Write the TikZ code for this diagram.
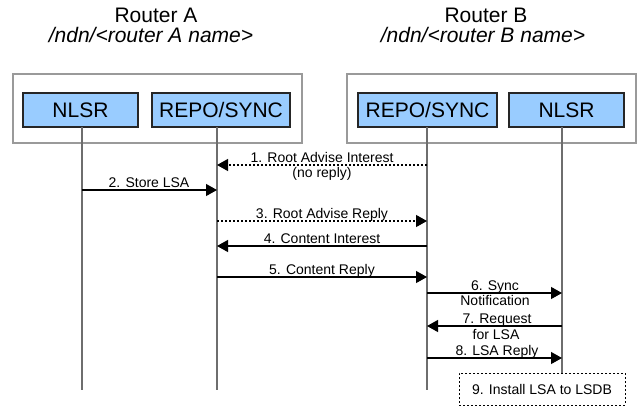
\documentclass[tikz,border=0pt]{standalone}
\usepackage{fontspec}
\setmainfont{Liberation Sans}
\usetikzlibrary{arrows.meta}
\definecolor{boxblue}{HTML}{99CCFF}
\definecolor{framegray}{HTML}{9A9A9A}
\definecolor{lifegray}{HTML}{6E6E6E}
\begin{document}
\begin{tikzpicture}[x=1pt,y=-1pt,
  titletext/.style={font=\fontsize{21}{24}\selectfont, inner sep=0pt},
  subtext/.style={font=\fontsize{21}{24}\selectfont\itshape, inner sep=0pt},
  frame/.style={draw=framegray, line width=2pt, fill=white, inner sep=0pt},
  module/.style={draw=black!85, line width=1.8pt, fill=boxblue, inner sep=0pt,
    font=\fontsize{21}{24}\selectfont},
  lifeline/.style={draw=lifegray, line width=1.4pt},
  msg/.style={draw=black, line width=1.2pt, -{Triangle[length=11pt,width=12pt]}},
  dmsg/.style={msg, dash pattern=on 2pt off 2pt},
  lbl/.style={font=\fontsize{14}{16}\selectfont, inner sep=0pt, anchor=base},
  notebox/.style={draw=black, line width=1pt, dash pattern=on 2pt off 2pt,
    inner sep=0pt, font=\fontsize{14}{16}\selectfont}
]
\useasboundingbox (0,0) rectangle (642,413);

% titles
\node[titletext] (ta) at (156,15) {Router A};
\node[subtext] (sa) at (151,35) {/ndn/<router A name>};
\node[titletext] (tb) at (486,15) {Router B};
\node[subtext] (sb) at (483,35) {/ndn/<router B name>};

% frames
\node[frame, minimum width=289pt, minimum height=69pt] (fa) at (157.5,108.5) {};
\node[frame, minimum width=289pt, minimum height=69pt] (fb) at (491.5,108.5) {};

% modules
\node[module, minimum width=115pt, minimum height=34pt] (nlsra) at (80.5,110) {NLSR};
\node[module, minimum width=138pt, minimum height=34pt] (repoa) at (221,110) {REPO/SYNC};
\node[module, minimum width=139pt, minimum height=34pt] (repob) at (427.5,110) {REPO/SYNC};
\node[module, minimum width=115pt, minimum height=34pt] (nlsrb) at (566.5,110) {NLSR};

% note box
\node[notebox, minimum width=166pt, minimum height=32pt] (note) at (542,389) {9. Install LSA to LSDB};

% lifeline endpoints
\coordinate (la0) at (82,127);   \coordinate (la1) at (82,390);
\coordinate (ra0) at (217,127);  \coordinate (ra1) at (217,390);
\coordinate (rb0) at (427,127);  \coordinate (rb1) at (427,390);
\coordinate (lb0) at (562,127);  \coordinate (lb1) at (562,373);
\draw[lifeline] (la0) -- (la1);
\draw[lifeline] (ra0) -- (ra1);
\draw[lifeline] (rb0) -- (rb1);
\draw[lifeline] (lb0) -- (lb1);

% message anchor points
\coordinate (m1b) at (427,165);   \coordinate (m1a) at (217,165);
\coordinate (m2n) at (82,190);    \coordinate (m2r) at (217,190);
\coordinate (m3a) at (217,221);   \coordinate (m3b) at (427,221);
\coordinate (m4b) at (427,246);   \coordinate (m4a) at (217,246);
\coordinate (m5a) at (217,277);   \coordinate (m5b) at (427,277);
\coordinate (m6r) at (427,293);   \coordinate (m6n) at (562,293);
\coordinate (m7n) at (562,326);   \coordinate (m7r) at (427,326);
\coordinate (m8r) at (427,358);   \coordinate (m8n) at (562,358);

\draw[dmsg] (m1b) -- (m1a);
\draw[msg]  (m2n) -- (m2r);
\draw[dmsg] (m3a) -- (m3b);
\draw[msg]  (m4b) -- (m4a);
\draw[msg]  (m5a) -- (m5b);
\draw[msg]  (m6r) -- (m6n);
\draw[msg]  (m7n) -- (m7r);
\draw[msg]  (m8r) -- (m8n);

% labels
\node[lbl] (l1) at (322,162.5) {1. Root Advise Interest};
\node[lbl] (l1b) at (322,177.5) {(no reply)};
\node[lbl] (l2) at (149,187) {2. Store LSA};
\node[lbl] (l3) at (322,218) {3. Root Advise Reply};
\node[lbl] (l4) at (322,243) {4. Content Interest};
\node[lbl] (l5) at (322,274.5) {5. Content Reply};
\node[lbl] (l6) at (495,290) {6. Sync};
\node[lbl] (l6b) at (495,305) {Notification};
\node[lbl] (l7) at (497,323) {7. Request};
\node[lbl] (l7b) at (496,339) {for LSA};
\node[lbl] (l8) at (497,355.5) {8. LSA Reply};
\end{tikzpicture}
\end{document}
